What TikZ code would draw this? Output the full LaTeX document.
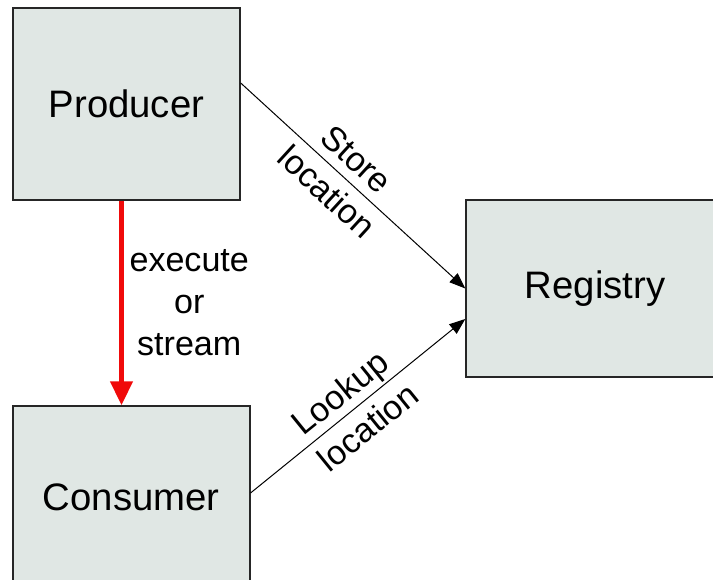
\documentclass[tikz,border=0pt]{standalone}
\usepackage{fontspec}
\setmainfont{Liberation Sans}
\usetikzlibrary{arrows.meta}
\definecolor{boxfill}{RGB}{224,231,228}
\definecolor{flowred}{RGB}{240,10,10}

\begin{document}
\begin{tikzpicture}[x=0.02cm, y=-0.02cm,
    box/.style={rectangle, draw=black!85, line width=0.85pt, fill=boxfill,
      font=\fontsize{21.8}{26}\selectfont},
    link/.style={line width=0.57pt, -{Triangle[length=0.32cm, width=0.24cm]}},
    flow/.style={flowred, line width=2.5pt, -{Triangle[length=0.48cm, width=0.44cm]}},
    lbl/.style={text=black, font=\fontsize{19.4}{23.9}\selectfont, align=center},
    slbl/.style={lbl, sloped, font=\fontsize{19.4}{25.2}\selectfont}]
    \useasboundingbox (0,0) rectangle (713,580);

    % 箱を置く
    \node[box, minimum width=4.54cm, minimum height=3.84cm] (producer) at (126.5, 104) {Producer};
    \node[box, minimum width=4.74cm, minimum height=3.64cm] (consumer) at (131.3, 497) {Consumer};
    \node[box, minimum width=5.16cm, minimum height=3.54cm] (registry) at (595, 288.5) {Registry};

    % 線を引く
    \coordinate (redtop) at ([xshift=-0.1cm]producer.south);
    \draw[flow] (redtop) -- (redtop |- consumer.north)
      node[lbl, midway, right] {execute\\or\\stream};
    \draw[link] ([yshift=0.42cm]producer.east) -- (registry.west)
      node[slbl, pos=0.45] {Store\\location};
    \draw[link] ([yshift=0.08cm]consumer.east) -- ([yshift=-0.61cm]registry.west)
      node[slbl, pos=0.48] {Lookup\\location};

  \end{tikzpicture}
\end{document}
